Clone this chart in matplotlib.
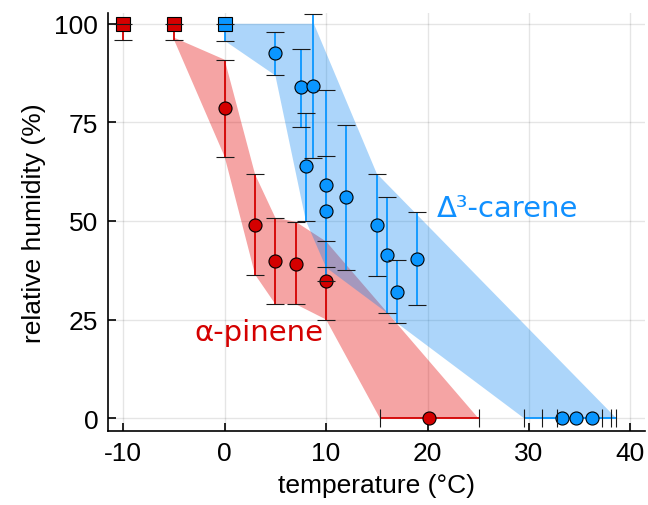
import numpy as np
import matplotlib
matplotlib.use("Agg")
import matplotlib.pyplot as plt

# ---- data ----
# alpha-pinene
red_sq_x = [-10, -5]
red_sq_y = [100, 100]
red_sq_lo = [96, 96]
red_sq_hi = [100, 100]

red_x = [0, 3, 5, 7, 10]
red_y = [78.7, 49.1, 39.8, 39.2, 34.9]
red_lo = [66.3, 36.4, 28.9, 28.9, 25.0]
red_hi = [90.9, 61.8, 50.8, 49.8, 44.8]

red_zero_x = [20.15]
red_zero_y = [0]
red_zero_xlo = [15.3]
red_zero_xhi = [25.1]

red_band_up_x = [-5, 0, 3, 5, 7, 10, 25]
red_band_up_y = [96.5, 90.9, 61.8, 50.8, 49.8, 44.8, 0]
red_band_lo_x = [-5, 0, 3, 5, 7, 10, 15.3]
red_band_lo_y = [96, 66.3, 36.4, 28.9, 28.9, 25.0, 0]

# delta-3-carene
blue_sq_x = [0]
blue_sq_y = [100]
blue_sq_lo = [95.7]
blue_sq_hi = [100]

blue_x = [5, 7.5, 8.75, 8, 10, 10, 12, 15, 16, 17, 19]
blue_y = [92.6, 83.9, 84.3, 63.9, 59.1, 52.4, 56.0, 48.9, 41.4, 32.1, 40.4]
blue_lo = [86.9, 73.9, 65.9, 50.1, 34.9, 38.2, 37.5, 36.0, 26.7, 24.1, 28.7]
blue_hi = [98.0, 93.7, 102.5, 77.4, 83.2, 66.4, 74.3, 62.0, 56.0, 40.1, 52.3]

blue_zero_x = [33.3, 34.6, 36.2]
blue_zero_y = [0, 0, 0]
blue_zero_xlo = [29.5, 31.3, 32.8]
blue_zero_xhi = [37.2, 38.1, 38.6]

blue_band_up_x = [0, 8.8, 15, 38.6]
blue_band_up_y = [100, 100, 62.0, 0]
blue_band_lo_x = [0, 5, 8, 10, 16, 17, 29.5]
blue_band_lo_y = [95.7, 86.9, 50.1, 38.2, 26.7, 24.1, 0]

xticks = [-10, 0, 10, 20, 30, 40]
yticks = [0, 25, 50, 75, 100]

red = "#d40000"
blue = "#0a96ff"
red_band = (0.89, 0.0, 0.0, 0.357)
blue_band = (0.014, 0.51, 0.94, 0.33)

plt.rcParams["font.family"] = "Liberation Sans"
plt.rcParams["font.size"] = 19
plt.rcParams["axes.unicode_minus"] = False

fig = plt.figure(figsize=(6.48, 5.06), dpi=100)
ax = fig.add_axes([0.1667, 0.146, 0.828, 0.826])


def band(ux, uy, lx, ly, color):
    px = list(ux) + list(lx)[::-1]
    py = list(uy) + list(ly)[::-1]
    ax.fill(px, py, color=color, lw=0, zorder=1)


def style_caps(caps):
    for c in caps:
        c.set_markeredgecolor("#1a1a1a")
        c.set_markerfacecolor("#1a1a1a")
        c.set_zorder(4)


def yerr_points(x, y, lo, hi, color, marker):
    x = np.array(x); y = np.array(y)
    err = [y - np.array(lo), np.array(hi) - y]
    _, caps, _ = ax.errorbar(x, y, yerr=err, fmt=marker, ms=9.6 if marker == "s" else 9.4,
                             mfc=color, mec="k", mew=0.8, ecolor=color, elinewidth=1.3,
                             capsize=6.3, capthick=1.2, zorder=3, clip_on=False)
    style_caps(caps)


def xerr_points(x, y, lo, hi, color):
    x = np.array(x); y = np.array(y)
    err = [x - np.array(lo), np.array(hi) - x]
    _, caps, _ = ax.errorbar(x, y, xerr=err, fmt="o", ms=9.4,
                             mfc=color, mec="k", mew=0.8, ecolor=color, elinewidth=1.3,
                             capsize=6.3, capthick=1.2, zorder=3)
    style_caps(caps)


band(red_band_up_x, red_band_up_y, red_band_lo_x, red_band_lo_y, red_band)
band(blue_band_up_x, blue_band_up_y, blue_band_lo_x, blue_band_lo_y, blue_band)

yerr_points(red_sq_x, red_sq_y, red_sq_lo, red_sq_hi, red, "s")
yerr_points(red_x, red_y, red_lo, red_hi, red, "o")
xerr_points(red_zero_x, red_zero_y, red_zero_xlo, red_zero_xhi, red)

yerr_points(blue_sq_x, blue_sq_y, blue_sq_lo, blue_sq_hi, blue, "s")
yerr_points(blue_x, blue_y, blue_lo, blue_hi, blue, "o")
xerr_points(blue_zero_x, blue_zero_y, blue_zero_xlo, blue_zero_xhi, blue)

ax.text(20.9, 53.4, "Δ³-carene", color="#1090ff", fontsize=21,
        family="DejaVu Sans", va="center", ha="left")
ax.text(-2.96, 21.8, "α-pinene", color=red, fontsize=21,
        family="DejaVu Sans", va="center", ha="left")

ax.set_xlim(-11.5, 41.4)
ax.set_ylim(-3.3, 102.7)
ax.set_xticks(xticks)
ax.set_yticks(yticks)
ax.grid(True, color="k", alpha=0.1, lw=1)
ax.set_axisbelow(True)
ax.tick_params(direction="in", length=6, width=1.2, pad=7)
for s in ["top", "right"]:
    ax.spines[s].set_visible(False)
for s in ["left", "bottom"]:
    ax.spines[s].set_linewidth(1.2)
ax.set_xlabel("temperature (°C)", labelpad=6)
ax.set_ylabel("relative humidity (%)", labelpad=6)

fig.savefig("out.png", dpi=100)
